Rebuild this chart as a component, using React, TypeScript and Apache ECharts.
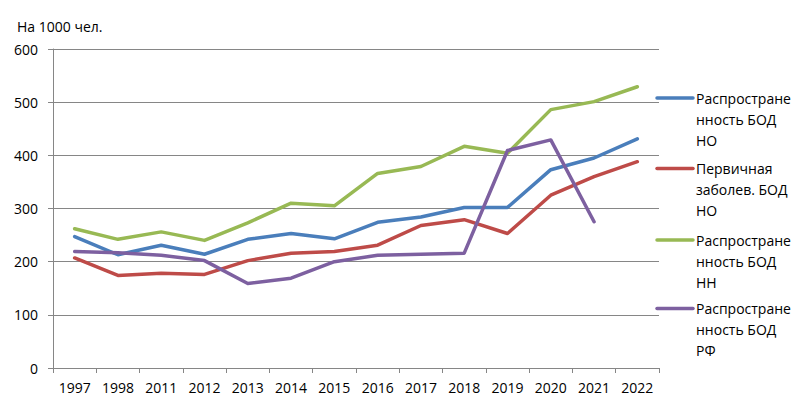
import React, { useEffect, useRef } from "react";
import * as echarts from "echarts";

const categories = ["1997", "1998", "2011", "2012", "2013", "2014", "2015", "2016", "2017", "2018", "2019", "2020", "2021", "2022"];
const seriesNames = [
  "Распространенность БОД НО",
  "Первичная заболев. БОД НО",
  "Распространенность БОД НН",
  "Распространенность БОД РФ",
];
const legendLabels = [
  "Распростране\nнность БОД\nНО",
  "Первичная\nзаболев. БОД\nНО",
  "Распростране\nнность БОД\nНН",
  "Распростране\nнность БОД\nРФ",
];
const prevalenceNO = [247, 213, 231, 214, 242, 253, 243, 274, 284, 302, 302, 373, 395, 431];
const incidenceNO = [207, 174, 178, 176, 202, 216, 219, 231, 268, 279, 253, 325, 360, 388];
const prevalenceNN = [262, 242, 256, 240, 273, 310, 305, 366, 379, 417, 404, 486, 501, 529];
const prevalenceRF = [219, 217, 212, 202, 159, 169, 200, 212, 214, 216, 409, 429, 275, null];
const colors = ["#4A7EBB", "#BE4B48", "#98B954", "#7D60A0"];
const yTicks = { min: 0, max: 600, interval: 100 };

const FONT = "'Open Sans', 'DejaVu Sans', sans-serif";
const legendRowY = [98, 168.5, 240, 308.5];

export default function App() {
  const ref = useRef<HTMLDivElement>(null);
  useEffect(() => {
    if (!ref.current) return;
    const chart = echarts.init(ref.current, null, { renderer: "svg" });
    const data = [prevalenceNO, incidenceNO, prevalenceNN, prevalenceRF];
    const legendGraphics: any[] = [];
    seriesNames.forEach((name, i) => {
      legendGraphics.push({
        type: "line",
        shape: { x1: 657, y1: legendRowY[i], x2: 693, y2: legendRowY[i] },
        style: { stroke: colors[i], lineWidth: 3.5, lineCap: "round" },
        silent: true,
      });
      legendGraphics.push({
        type: "text",
        x: 696,
        y: legendRowY[i] - 10.5,
        style: {
          text: legendLabels[i],
          fill: "#000",
          font: `14px ${FONT}`,
          fontSize: 14,
          fontFamily: FONT,
          lineHeight: 21,
          verticalAlign: "top",
          align: "left",
        },
        silent: true,
      });
    });
    chart.setOption({
      animation: false,
      backgroundColor: "#ffffff",
      textStyle: { fontFamily: FONT },
      title: {
        text: "На 1000 чел.",
        left: 12,
        top: 14,
        textStyle: { fontFamily: FONT, fontSize: 14, fontWeight: "normal", color: "#000" },
      },
      grid: { left: 53, right: 148, top: 49, bottom: 48 },
      legend: { show: false, data: seriesNames },
      graphic: legendGraphics,
      xAxis: {
        type: "category",
        data: categories,
        boundaryGap: true,
        axisLine: { show: true, lineStyle: { color: "#868686", width: 1 } },
        axisTick: { show: true, length: 5, lineStyle: { color: "#868686" } },
        axisLabel: { color: "#000", fontSize: 14, fontFamily: FONT, margin: 12, interval: 0 },
        splitLine: { show: false },
      },
      yAxis: {
        type: "value",
        min: yTicks.min,
        max: yTicks.max,
        interval: yTicks.interval,
        axisLine: { show: true, lineStyle: { color: "#868686", width: 1 } },
        axisTick: { show: true, length: 5, lineStyle: { color: "#868686" } },
        axisLabel: { color: "#000", fontSize: 14, fontFamily: FONT, margin: 15 },
        splitLine: { show: true, lineStyle: { color: "#868686", width: 1 } },
      },
      series: seriesNames.map((name, i) => ({
        name,
        type: "line",
        data: data[i],
        symbol: "none",
        connectNulls: false,
        color: colors[i],
        lineStyle: { color: colors[i], width: 3.5, cap: "round", join: "round" },
        z: 2 + i,
      })),
    });
    return () => chart.dispose();
  }, []);
  return (
    <div
      ref={ref}
      style={{ position: "fixed", left: 0, top: 0, width: 807, height: 416 }}
    />
  );
}
